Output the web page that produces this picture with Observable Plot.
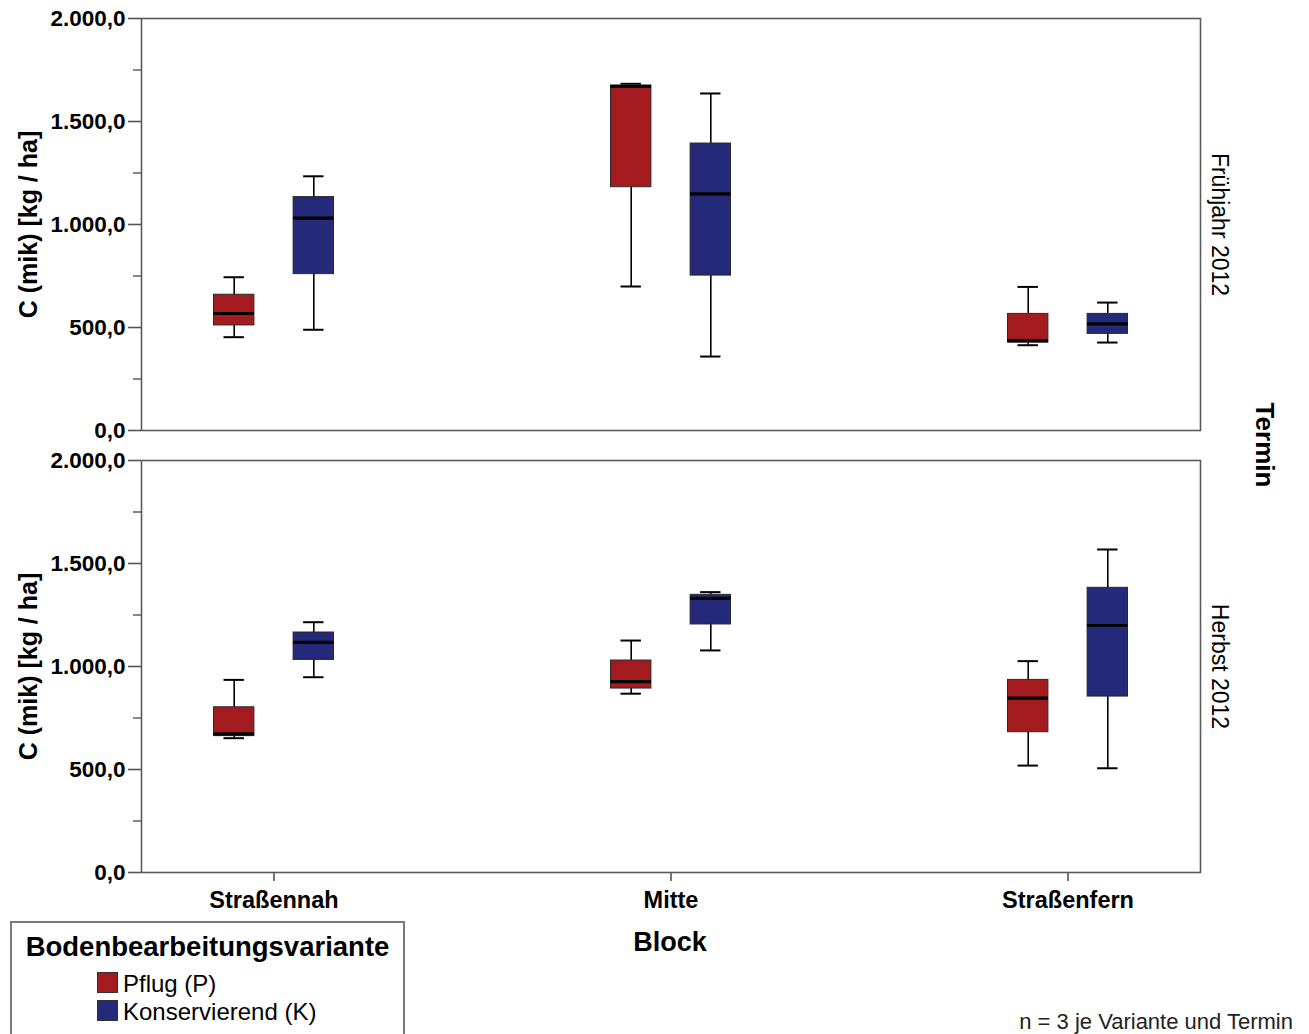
<!DOCTYPE html>
<html><head><meta charset="utf-8">
<script src="https://cdn.jsdelivr.net/npm/d3@7"></script>
<script src="https://cdn.jsdelivr.net/npm/@observablehq/plot@0.6"></script>
<style>
body{margin:0;background:#fff;}
#wrap{position:relative;width:1309px;height:1034px;overflow:hidden;font-family:"Liberation Sans",Arial,sans-serif;color:#000;background:#fff;}
#wrap svg{position:absolute;left:0;top:0;}
.abs{position:absolute;white-space:nowrap;line-height:1;}
</style></head><body><div id="wrap"></div>
<script>
// Categories
const blocks = ["Straßennah", "Mitte", "Straßenfern"];
const termine = ["Frühjahr 2012", "Herbst 2012"];
const varianten = ["Pflug (P)", "Konservierend (K)"];
const variantColors = ["#a31a1f", "#25297a"];
const yTicks = [0, 500, 1000, 1500, 2000];
const yMinorTicks = [250, 750, 1250, 1750];

// Box statistics per block (Straßennah, Mitte, Straßenfern)
// Frühjahr 2012, Pflug (P)
const fruehPflugMin = [453, 699, 414];
const fruehPflugQ1  = [510, 1181, 426];
const fruehPflugMed = [568, 1670, 437];
const fruehPflugQ3  = [659, 1675, 566];
const fruehPflugMax = [744, 1683, 697];
// Frühjahr 2012, Konservierend (K)
const fruehKonsMin = [489, 359, 427];
const fruehKonsQ1  = [759, 752, 469];
const fruehKonsMed = [1031, 1149, 518];
const fruehKonsQ3  = [1133, 1393, 566];
const fruehKonsMax = [1234, 1636, 621];
// Herbst 2012, Pflug (P)
const herbstPflugMin = [652, 868, 519];
const herbstPflugQ1  = [662, 893, 681];
const herbstPflugMed = [673, 927, 846];
const herbstPflugQ3  = [802, 1029, 935];
const herbstPflugMax = [935, 1126, 1026];
// Herbst 2012, Konservierend (K)
const herbstKonsMin = [948, 1078, 506];
const herbstKonsQ1  = [1032, 1204, 854];
const herbstKonsMed = [1117, 1331, 1199];
const herbstKonsQ3  = [1165, 1348, 1382];
const herbstKonsMax = [1215, 1361, 1568];

const series = [
  {termin: termine[0], variante: varianten[0], s: [fruehPflugMin, fruehPflugQ1, fruehPflugMed, fruehPflugQ3, fruehPflugMax]},
  {termin: termine[0], variante: varianten[1], s: [fruehKonsMin, fruehKonsQ1, fruehKonsMed, fruehKonsQ3, fruehKonsMax]},
  {termin: termine[1], variante: varianten[0], s: [herbstPflugMin, herbstPflugQ1, herbstPflugMed, herbstPflugQ3, herbstPflugMax]},
  {termin: termine[1], variante: varianten[1], s: [herbstKonsMin, herbstKonsQ1, herbstKonsMed, herbstKonsQ3, herbstKonsMax]}
];
const rows = [];
for (const ser of series) {
  blocks.forEach((b, i) => rows.push({
    termin: ser.termin, variante: ser.variante, block: b,
    min: ser.s[0][i], q1: ser.s[1][i], med: ser.s[2][i], q3: ser.s[3][i], max: ser.s[4][i]
  }));
}

const de = d3.formatLocale({decimal: ",", thousands: ".", grouping: [3], currency: ["", " €"]});
const fmt = de.format(",.1f");

const boxInset = 79.3, capInset = 89.3;
function boxMarks(variante, dx, color) {
  const data = rows.filter(d => d.variante === variante);
  return [
    Plot.ruleX(data, {x: "block", y1: "min", y2: "max", fy: "termin", dx, stroke: "#000", strokeWidth: 1.6}),
    Plot.tickY(data, {x: "block", y: "min", fy: "termin", dx, insetLeft: capInset, insetRight: capInset, stroke: "#000", strokeWidth: 2}),
    Plot.tickY(data, {x: "block", y: "max", fy: "termin", dx, insetLeft: capInset, insetRight: capInset, stroke: "#000", strokeWidth: 2}),
    Plot.barY(data, {x: "block", y1: "q1", y2: "q3", fy: "termin", dx, insetLeft: boxInset, insetRight: boxInset, fill: color, stroke: "#2a2a2a", strokeWidth: 1}),
    Plot.tickY(data, {x: "block", y: "med", fy: "termin", dx, insetLeft: boxInset, insetRight: boxInset, stroke: "#000", strokeWidth: 3.2})
  ];
}

const chart = Plot.plot({
  width: 1309,
  height: 1034,
  marginLeft: 141,
  marginRight: 109,
  marginTop: 18,
  marginBottom: 162,
  style: {fontFamily: '"Liberation Sans", Arial, sans-serif', fontSize: "22px", fontWeight: "bold", color: "#000", background: "#fff"},
  x: {domain: blocks, type: "band", paddingInner: 0.5, paddingOuter: 0.0825},
  y: {domain: [0, 2000]},
  fy: {domain: termine, axis: null, paddingInner: 0.0679, paddingOuter: 0},
  marks: [
    ...boxMarks(varianten[0], -39.8, variantColors[0]),
    ...boxMarks(varianten[1], 39.8, variantColors[1]),
    Plot.frame({stroke: "#5a5a5a", strokeWidth: 1.6}),
    Plot.axisY({ticks: yTicks, tickFormat: fmt, tickSize: 13, tickPadding: 3, stroke: "#555", strokeWidth: 1.6, label: null, fontSize: 22.5}),
    Plot.axisY({ticks: yMinorTicks, tickFormat: () => "", tickSize: 8, stroke: "#555", strokeWidth: 1.4, label: null}),
    Plot.axisX({tickSize: 9, tickPadding: 10, stroke: "#555", strokeWidth: 1.6, label: null, fontSize: 23.5}),
    Plot.text(termine, {fy: d => d, text: () => "C (mik) [kg / ha]", frameAnchor: "left", textAnchor: "middle", rotate: -90, dx: -113, fontSize: 25, fontWeight: "bold", fill: "#000"}),
    Plot.text(termine, {fy: d => d, text: d => d, frameAnchor: "right", textAnchor: "middle", rotate: 90, dx: 19, fontSize: 23, fontWeight: "normal", fill: "#000"})
  ]
});

const wrap = document.getElementById("wrap");
wrap.appendChild(chart);

function addText(txt, css) {
  const el = document.createElement("div");
  el.className = "abs";
  el.textContent = txt;
  Object.assign(el.style, css);
  wrap.appendChild(el);
  return el;
}
addText("Termin", {left: "1265px", top: "445px", transform: "translate(-50%,-50%) rotate(90deg)", fontSize: "26px", fontWeight: "bold"});
addText("Block", {left: "670px", top: "942px", transform: "translate(-50%,-50%)", fontSize: "27px", fontWeight: "bold"});
addText("n = 3 je Variante und Termin", {right: "16px", top: "1022px", transform: "translateY(-50%)", fontSize: "22px", color: "#222"});

// Legend
const leg = document.createElement("div");
Object.assign(leg.style, {position: "absolute", left: "10px", top: "921px", width: "395px", height: "130px", border: "2px solid #7a7a7a", boxSizing: "border-box", background: "#fff"});
wrap.appendChild(leg);
const lt = document.createElement("div");
lt.className = "abs";
lt.textContent = "Bodenbearbeitungsvariante";
Object.assign(lt.style, {left: "50%", top: "24px", transform: "translate(-50%,-50%)", fontSize: "27.5px", fontWeight: "bold"});
leg.appendChild(lt);
varianten.forEach((v, i) => {
  const sw = document.createElement("div");
  Object.assign(sw.style, {position: "absolute", left: "85px", top: (49 + i * 28) + "px", width: "21px", height: "21px", background: variantColors[i], border: "1px solid #333", boxSizing: "border-box"});
  leg.appendChild(sw);
  const t = document.createElement("div");
  t.className = "abs";
  t.textContent = v;
  Object.assign(t.style, {left: "111px", top: (61 + i * 28) + "px", transform: "translateY(-50%)", fontSize: "24px"});
  leg.appendChild(t);
});
</script></body></html>
